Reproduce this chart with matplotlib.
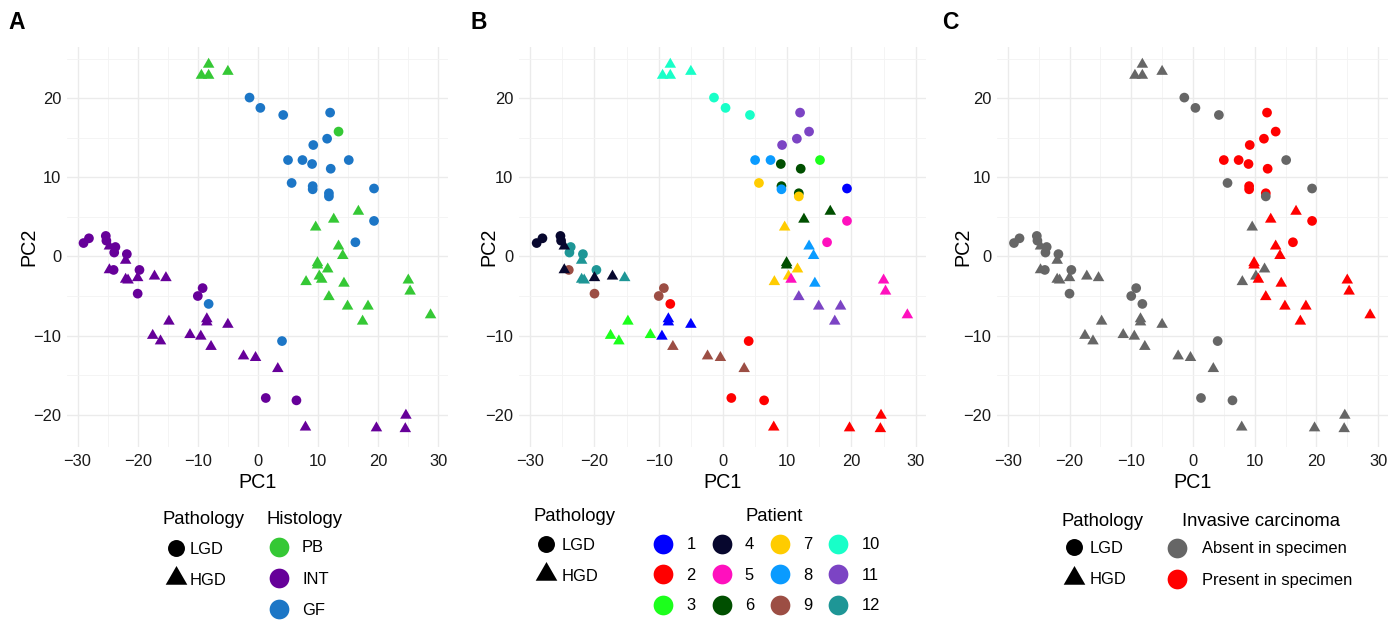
import matplotlib
matplotlib.use('Agg')
import matplotlib.pyplot as plt
from matplotlib.path import Path

plt.rcParams['font.family'] = ['Liberation Sans', 'DejaVu Sans']

# ---------------- data ----------------
pc1 = [-9.4, -8.2, -8.2, -5.0, -1.4, 0.4, 4.2, 12.0, 13.4, 11.5, 9.2, 5.0, 7.4, 9.0, 12.1,
       15.1, 5.6, 9.1, 9.1, 11.8, 11.8, 19.3, 19.3, 16.2, 9.6, 12.6, 16.7, 13.4, 14.1, 9.9,
       9.9, 11.6, 8.0, 10.2, 10.6, 14.3, 11.8, 14.9, 18.3, 17.4, 25.0, 25.3, 28.7,
       -29.0, -28.1, -25.3, -25.2, -24.7, -23.7, -23.9, -21.8, -22.0, -19.7, -24.7, -24.0,
       -22.0, -21.6, -20.0, -17.2, -15.3, -20.0, -9.2, -10.0, -8.2, -14.8, -17.5, -16.2,
       -11.3, -9.5, -8.5, -8.5, -5.0, -7.8, -2.4, -0.4, 3.3, 4.0, 1.3, 6.4, 7.9, 19.7,
       24.6, 24.5]
pc2 = [22.9, 22.9, 24.3, 23.4, 20.1, 18.8, 17.9, 18.2, 15.8, 14.9, 14.1, 12.2, 12.2, 11.7,
       11.1, 12.2, 9.3, 8.9, 8.5, 8.0, 7.6, 8.6, 4.5, 1.8, 3.7, 4.7, 5.7, 1.3, 0.1, -0.8,
       -1.1, -1.6, -3.2, -2.5, -2.9, -3.4, -5.1, -6.3, -6.3, -8.2, -3.0, -4.4, -7.4,
       1.7, 2.3, 2.6, 2.0, 1.3, 1.2, 0.5, 0.3, -0.5, -1.7, -1.7, -1.7, -2.9, -3.0, -2.7,
       -2.5, -2.7, -4.7, -4.0, -5.0, -6.0, -8.2, -10.0, -10.7, -9.9, -10.1, -7.9, -8.3,
       -8.6, -11.4, -12.6, -12.8, -14.2, -10.7, -17.9, -18.2, -21.6, -21.7, -20.1, -21.8]
pathology = ['HGD'] * 4 + ['LGD'] * 20 + ['HGD'] * 19 + \
    ['LGD'] * 4 + ['HGD'] + ['LGD'] * 3 + ['HGD'] + ['LGD'] + ['HGD'] + ['LGD'] + \
    ['HGD'] * 5 + ['LGD'] * 4 + ['HGD'] * 12 + ['LGD'] * 3 + ['HGD'] * 4
histology = ['PB'] * 4 + ['GF'] * 4 + ['PB'] + ['GF'] * 15 + ['PB'] * 19 + \
    ['INT'] * 20 + ['GF'] + ['INT'] * 12 + ['GF'] + ['INT'] * 6
patient = [10, 10, 10, 10, 10, 10, 10, 11, 11, 11, 11, 8, 8, 6, 6, 3, 7, 6, 8, 6, 7, 1, 5, 5,
           7, 6, 6, 8, 8, 6, 6, 7, 7, 7, 5, 8, 11, 11, 11, 11, 5, 5, 5,
           4, 4, 4, 4, 4, 12, 12, 12, 12, 12, 4, 9, 12, 12, 4, 4, 12, 9, 9, 9, 2,
           3, 3, 3, 3, 1, 1, 1, 1, 9, 9, 9, 9, 2, 2, 2, 2, 2, 2, 2]
invasive = ['Absent'] * 7 + ['Present'] * 8 + ['Absent'] * 2 + ['Present'] * 3 + ['Absent'] * 2 + \
    ['Present'] * 2 + ['Absent'] + ['Present'] * 6 + ['Absent'] * 3 + ['Present'] * 9 + \
    ['Absent'] * 40

hist_levels = ['PB', 'INT', 'GF']
hist_colors = {'PB': '#35C835', 'INT': '#660099', 'GF': '#1C76C6'}
patient_levels = list(range(1, 13))
patient_colors = {1: '#0000FF', 2: '#FF0000', 3: '#1CFF1C', 4: '#07072E', 5: '#FF10BE',
                  6: '#004F00', 7: '#FFCC00', 8: '#0A9BFF', 9: '#9C4E44', 10: '#18FFC8',
                  11: '#7C44C4', 12: '#1E9696'}
inv_levels = ['Absent', 'Present']
inv_labels = {'Absent': 'Absent in specimen', 'Present': 'Present in specimen'}
inv_colors = {'Absent': '#666666', 'Present': '#FF0000'}

# ---------------- figure ----------------
W, H = 1398, 621
fig = plt.figure(figsize=(W / 100, H / 100), dpi=100)

TRI = Path([(-1, -0.577), (1, -0.577), (0, 1.155), (-1, -0.577)],
           [Path.MOVETO, Path.LINETO, Path.LINETO, Path.CLOSEPOLY])
PX = 72 / 100  # points per pixel


def px_axes(l, r, t, b):
    return fig.add_axes([l / W, 1 - b / H, (r - l) / W, (b - t) / H])


# overlay axes in pixel coordinates for legends / labels
lax = fig.add_axes([0, 0, 1, 1])
lax.set_xlim(0, W)
lax.set_ylim(H, 0)
lax.axis('off')


def txt(x, yc, s, size, **kw):
    base = yc + 0.358 * size / PX
    lax.text(x, base, s, fontsize=size, va='baseline', **kw)


def panel(l, r, colors, letter, letter_x, ylab_x):
    ax = px_axes(l, r, 47, 447)
    ax.set_xlim(-31.75, 31.6)
    ax.set_ylim(-24.1, 26.5)
    ax.set_xticks([-30, -20, -10, 0, 10, 20, 30])
    ax.set_yticks([-20, -10, 0, 10, 20])
    ax.set_xticks([-25, -15, -5, 5, 15, 25], minor=True)
    ax.set_yticks([-15, -5, 5, 15, 25], minor=True)
    ax.grid(which='major', color='#EBEBEB', lw=1.0)
    ax.grid(which='minor', color='#F3F3F3', lw=0.6)
    ax.set_axisbelow(True)
    for s in ax.spines.values():
        s.set_visible(False)
    ax.tick_params(which='both', length=0, labelsize=11.9, colors='#1a1a1a', pad=4)
    ax.tick_params(axis='x', pad=5)
    for shape, mk, size in (('LGD', 'o', 7.0), ('HGD', TRI, 9.6)):
        xs = [x for x, p in zip(pc1, pathology) if p == shape]
        ys = [y for y, p in zip(pc2, pathology) if p == shape]
        cs = [c for c, p in zip(colors, pathology) if p == shape]
        ax.scatter(xs, ys, s=size ** 2, marker=mk, c=cs, linewidths=0, zorder=3)
    lax.text((l + r) / 2, 488, 'PC1', fontsize=14.2, ha='center', va='baseline')
    lax.text(ylab_x, 247, 'PC2', fontsize=14.2, ha='center', va='center', rotation=90)
    lax.text(letter_x, 29, letter, fontsize=16.5, fontweight='bold', va='baseline')
    return ax


panel(67, 448, [hist_colors[h] for h in histology], 'A', 8.5, 29)
panel(519, 926, [patient_colors[p] for p in patient], 'B', 470, 489)
panel(997, 1388, [inv_colors[v] for v in invasive], 'C', 942, 963)


def key(x, y, color, mk='o', ms=14.2):
    lax.plot([x], [y], marker=mk, ms=ms, color=color, mew=0, ls='none')


TS, LS = 13.3, 11.9
# --- legend A ---
lax.text(162.7, 524, 'Pathology', fontsize=TS, va='baseline')
key(175.7, 548, 'black', 'o', 12.2)
txt(190, 548, 'LGD', LS)
key(175.7, 578, 'black', TRI, 18)
txt(190, 579, 'HGD', LS)
lax.text(266, 524, 'Histology', fontsize=TS, va='baseline')
for i, h in enumerate(hist_levels):
    yy = [546.5, 578, 609][i]
    key(279.3, yy, hist_colors[h])
    txt(302, yy, h, LS)

# --- legend B ---
lax.text(533.3, 521, 'Pathology', fontsize=TS, va='baseline')
key(545.5, 543.5, 'black', 'o', 12.2)
txt(561.5, 544, 'LGD', LS)
key(545.5, 574, 'black', TRI, 18)
txt(561.5, 575, 'HGD', LS)
lax.text(774, 521, 'Patient', fontsize=TS, va='baseline', ha='center')
col_x = [663.3, 721.7, 780, 838.3]
row_y = [543.5, 574, 604.5]
for i, p in enumerate(patient_levels):
    cx = col_x[i // 3]
    cy = row_y[i % 3]
    key(cx, cy, patient_colors[p])
    txt(cx + 23, cy, str(p), LS)

# --- legend C ---
lax.text(1061.7, 526, 'Pathology', fontsize=TS, va='baseline')
key(1074, 546.7, 'black', 'o', 12.2)
txt(1090, 546.7, 'LGD', LS)
key(1074, 577.5, 'black', TRI, 18)
txt(1090, 578.3, 'HGD', LS)
lax.text(1181.7, 526, 'Invasive carcinoma', fontsize=TS, va='baseline')
for i, v in enumerate(inv_levels):
    yy = [547.5, 579][i]
    key(1177.3, yy, inv_colors[v])
    txt(1201.7, yy, inv_labels[v], LS)

fig.savefig('out.png', dpi=100)
